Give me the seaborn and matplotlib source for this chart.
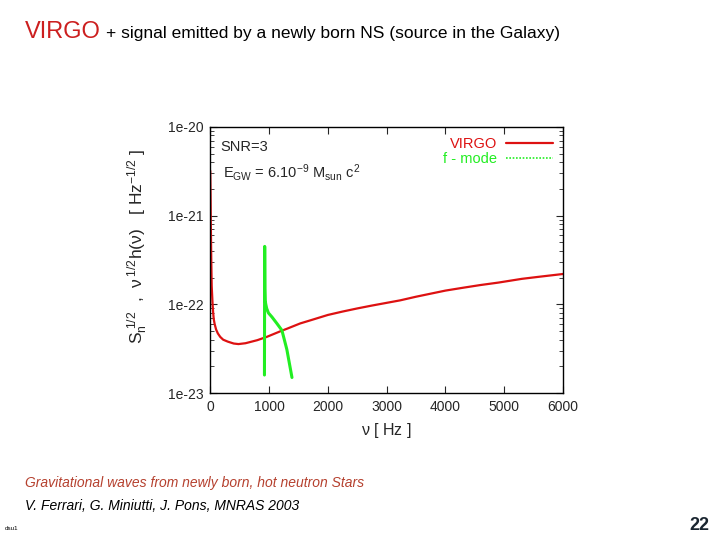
import matplotlib
matplotlib.use("Agg")
import matplotlib.pyplot as plt
import seaborn as sns
from matplotlib.lines import Line2D

# VIRGO sensitivity curve
virgo_freq = [0, 5, 10, 18, 25, 40, 50, 60, 75, 100, 130, 170, 220, 300, 400, 480,
              600, 800, 960, 1200, 1300, 1530, 1700, 2000, 2250, 2500, 2750, 3230,
              3500, 4000, 4300, 4590, 4900, 5300, 5600, 6000]
virgo_h = [3.2e-21, 1.8e-21, 8e-22, 3e-22, 1.6e-22, 1.0e-22, 8e-23, 6.8e-23, 6e-23,
           5.2e-23, 4.7e-23, 4.3e-23, 4.0e-23, 3.8e-23, 3.62e-23, 3.57e-23,
           3.65e-23, 3.95e-23, 4.3e-23, 5.0e-23, 5.3e-23, 6.1e-23, 6.6e-23, 7.6e-23,
           8.3e-23, 9.0e-23, 9.7e-23, 1.11e-22, 1.22e-22, 1.43e-22, 1.54e-22,
           1.65e-22, 1.76e-22, 1.94e-22, 2.05e-22, 2.2e-22]

# f-mode signal
fmode_freq = [922, 924, 926, 928, 930, 935, 945, 960, 990, 1050, 1133, 1219, 1303, 1390]
fmode_h = [1.6e-23, 1e-22, 4.5e-22, 2.5e-22, 1.5e-22, 1.1e-22, 1.0e-22, 9e-23,
           8e-23, 7.2e-23, 6.1e-23, 5.1e-23, 3.1e-23, 1.5e-23]

x_ticks = [0, 1000, 2000, 3000, 4000, 5000, 6000]
y_ticks = [1e-23, 1e-22, 1e-21, 1e-20]
y_labels = ["1e-23", "1e-22", "1e-21", "1e-20"]

sns.set_style("ticks")
plt.rcParams['font.family'] = ['Liberation Sans', 'DejaVu Sans']
plt.rcParams['mathtext.fontset'] = 'custom'
plt.rcParams['mathtext.rm'] = 'Liberation Sans'
plt.rcParams['mathtext.it'] = 'Liberation Sans'

red = "#dd1111"
green = "#22ee22"

fig = plt.figure(figsize=(7.2, 5.4), dpi=100)
ax = fig.add_axes([0.292, 0.272, 0.49, 0.493])

sns.lineplot(x=virgo_freq, y=virgo_h, ax=ax, color=red, linewidth=1.6, sort=False)
sns.lineplot(x=fmode_freq, y=fmode_h, ax=ax, color=green, linewidth=2.2, sort=False)

ax.set_yscale("log")
ax.set_xlim(0, 6000)
ax.set_ylim(1e-23, 1e-20)
ax.set_xticks(x_ticks)
ax.set_yticks(y_ticks)
ax.set_yticklabels(y_labels)
ax.tick_params(which="both", direction="in", top=True, right=True, labelsize=10)
ax.tick_params(which="major", length=5, pad=5)
ax.tick_params(which="minor", length=3)
for s in ax.spines.values():
    s.set_linewidth(1.0)
    s.set_color("black")

ax.set_xlabel(r"$\nu$ [ Hz ]", fontsize=11.5, labelpad=5)
ax.set_ylabel(r"S$_\mathrm{n}^{\ 1/2}$  ,  $\nu^{\,1/2}$h($\nu$)   [ Hz$^{-1/2}$ ]",
              fontsize=12.5)
ax.yaxis.set_label_coords(-0.17, 0.55)

ax.text(0.03, 0.925, "SNR=3", transform=ax.transAxes, fontsize=10.5, va="center")
ax.text(0.035, 0.83, r"E$_\mathrm{GW}$ = 6.10$^{-9}$ M$_\mathrm{sun}$ c$^2$",
        transform=ax.transAxes, fontsize=10.5, va="center")

handles = [Line2D([], [], color=red, linewidth=1.6),
           Line2D([], [], color=green, linewidth=1.2, linestyle=(0, (1, 1)))]
ax.legend(handles, ["VIRGO", "f - mode"], loc="upper right", frameon=False,
          markerfirst=False, fontsize=10.5, labelcolor=[red, green],
          handlelength=3.2, handletextpad=0.6, borderaxespad=0.3,
          labelspacing=0.05)

fig.text(0.035, 0.929, "VIRGO", color="#cc1f1f", fontsize=17, va="baseline")
fig.text(0.147, 0.929, "+ signal emitted by a newly born NS (source in the Galaxy)",
         color="black", fontsize=12.5, va="baseline")

fig.text(0.035, 0.099, "Gravitational waves from newly born, hot neutron Stars",
         color="#b5402e", fontsize=10, style="italic", va="baseline")
fig.text(0.035, 0.056, "V. Ferrari, G. Miniutti, J. Pons, MNRAS 2003",
         color="black", fontsize=10, style="italic", va="baseline")
fig.text(0.007, 0.018, "dsu1", color="black", fontsize=4.5, va="baseline")
fig.text(0.985, 0.018, "22", color="#1a2530", fontsize=13, fontweight="bold",
         ha="right", va="baseline")

plt.savefig("out.png", dpi=100)
